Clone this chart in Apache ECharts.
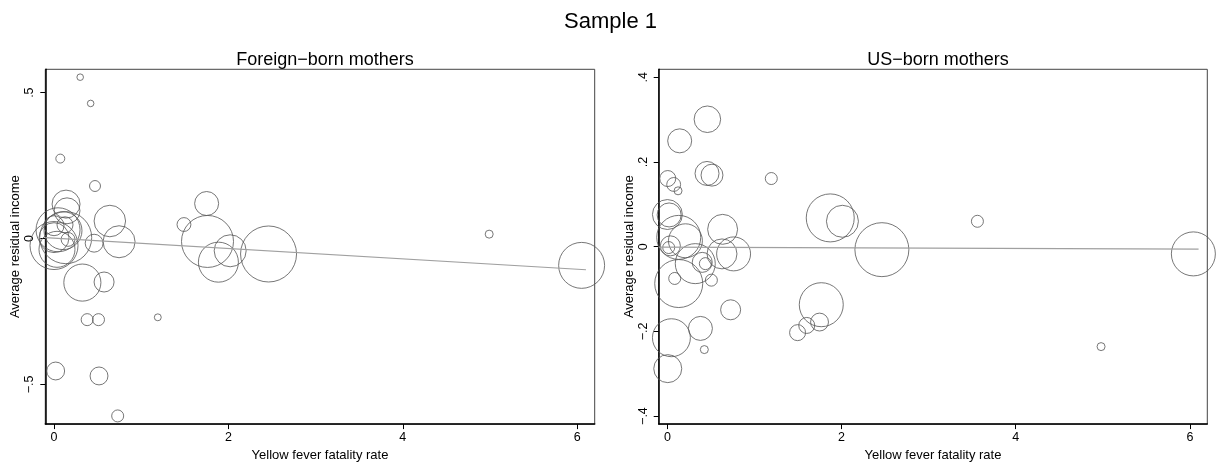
<!DOCTYPE html>
<html>
<head>
<meta charset="utf-8">
<script src="https://cdn.jsdelivr.net/npm/echarts@6/dist/echarts.min.js"></script>
<style>html,body{margin:0;padding:0;background:#fff}#c{width:1221px;height:467px}</style>
</head>
<body>
<div id="c"></div>
<script>
// ---- Data ----
const mainTitle = "Sample 1";
const panelTitles = ["Foreign\u2212born mothers", "US\u2212born mothers"];
const xAxisTitle = "Yellow fever fatality rate";
const yAxisTitle = "Average residual income";
const xTicks = [0, 2, 4, 6];
const yTicksForeign = [-0.5, 0, 0.5];
const yTicksUS = [-0.4, -0.2, 0, 0.2, 0.4];

// Foreign-born mothers: fatality rate, residual income, weight
const foreignX = [0.30, 0.42, 0.072, 0.47, 0.64, 0.746, 0.46, 1.49, 1.75, 1.76, 2.02, 1.885, 2.46, 0.325, 0.574, 0.38, 0.51, 1.19, 0.019, 0.516, 0.73, 4.99, 6.05,
  0.138, 0.149, 0.134, 0.046, 0.0, 0.034, 0.0, 0.103, 0.161, 0.126, 0.0];
const foreignY = [0.553, 0.463, 0.274, 0.18, 0.06, -0.011, -0.016, 0.048, 0.12, -0.01, -0.042, -0.081, -0.053, -0.151, -0.149, -0.278, -0.278, -0.27, -0.454, -0.471, -0.608, 0.015, -0.092,
  0.118, 0.095, 0.003, 0.030, -0.024, -0.037, 0.003, 0.027, -0.003, 0.047, 0.044];
const foreignW = [2.7, 2.7, 5, 7.5, 62, 64, 20, 12, 36, 169, 64, 100, 196, 86, 25, 9, 9, 3, 20, 20, 9, 4, 132,
  49, 42, 169, 121, 144, 81, 56, 90, 12, 16, 25];
// Fitted line endpoints (foreign)
const foreignFitX = [-0.1, 6.1];
const foreignFitY = [0.0034, -0.107];

// US-born mothers
const usX = [0.459, 0.141, 0.004, 0.072, 0.122, 0.455, 0.512, 1.193, 1.87, 2.01, 2.463, 0.634, 0.0, 0.02, 0.13, 0.207, 0.015, 0.034, 0.32, 0.40, 0.436, 0.627, 0.76, 0.13, 0.084, 0.505, 0.726, 0.379, 0.424, 0.046, 0.004, 1.767, 1.747, 1.60, 1.495, 3.56, 4.98, 6.04];
const usY = [0.301, 0.25, 0.161, 0.147, 0.132, 0.173, 0.169, 0.161, 0.068, 0.06, -0.007, 0.041, 0.076, 0.075, 0.022, 0.014, -0.002, 0.002, -0.04, -0.037, -0.04, -0.017, -0.017, -0.087, -0.075, -0.079, -0.149, -0.193, -0.243, -0.215, -0.288, -0.137, -0.178, -0.186, -0.203, 0.06, -0.236, -0.017];
const usW = [44, 36, 16, 12, 4, 36, 30, 9, 144, 64, 182, 56, 56, 36, 121, 72, 9, 25, 100, 25, 9, 56, 72, 144, 9, 9, 25, 36, 4, 90, 49, 121, 20, 16, 16, 9, 4, 121];
const usFitX = [-0.1, 6.1];
const usFitY = [-0.001, -0.0056];

// ---- Build ----
const FONT = "'Liberation Sans', Arial, Helvetica, sans-serif";
function fmt(v) {
  if (Math.abs(v) < 1e-9) return '0';
  const s = String(Math.abs(Math.round(v * 100) / 100)).replace(/^0/, '');
  return (v < 0 ? '\u2212' : '') + s;
}
function zip(xs, ys, ws) { return xs.map((x, i) => ws ? [x, ys[i], ws[i]] : [x, ys[i]]); }
const sizeFn = d => 4 * Math.sqrt(d[2]);

const grids = [
  { left: 45.3, right: 626.3, top: 69.3, bottom: 37.7 },
  { left: 658.7, right: 13.7, top: 69.3, bottom: 37.7 }
];
const yRanges = [[-0.636, 0.58], [-0.419, 0.419]];
const yTicks = [yTicksForeign, yTicksUS];

const option = {
  animation: false,
  backgroundColor: '#fff',
  textStyle: { fontFamily: FONT },
  title: [
    { text: mainTitle, left: 'center', top: 6, textStyle: { fontSize: 22, fontWeight: 'normal', color: '#000', fontFamily: FONT } },
    { text: panelTitles[0], left: 320, top: 46, textAlign: 'center', textStyle: { fontSize: 18, fontWeight: 'normal', color: '#000', fontFamily: FONT } },
    { text: panelTitles[1], left: 933, top: 46, textAlign: 'center', textStyle: { fontSize: 18, fontWeight: 'normal', color: '#000', fontFamily: FONT } }
  ],
  grid: grids.map(g => Object.assign({ show: true, borderColor: '#444', borderWidth: 1, backgroundColor: '#fff' }, g)),
  xAxis: [0, 1].map(i => ({
    type: 'value', gridIndex: i, min: -0.1, max: 6.2,
    name: xAxisTitle, nameLocation: 'middle', nameGap: 22,
    nameTextStyle: { fontSize: 13, color: '#000', fontFamily: FONT },
    axisLine: { show: true, onZero: false, lineStyle: { color: '#000', width: 1.5 } },
    axisTick: { show: true, length: 5, lineStyle: { color: '#000' }, customValues: xTicks },
    axisLabel: { color: '#000', fontSize: 12.5, margin: 7, customValues: xTicks, formatter: fmt, fontFamily: FONT },
    splitLine: { show: false }
  })),
  yAxis: [0, 1].map(i => ({
    type: 'value', gridIndex: i, min: yRanges[i][0], max: yRanges[i][1],
    name: yAxisTitle, nameLocation: 'middle', nameGap: 22, nameRotate: 90,
    nameTextStyle: { fontSize: 13, color: '#000', fontFamily: FONT },
    axisLine: { show: true, onZero: false, lineStyle: { color: '#000', width: 1.5 } },
    axisTick: { show: true, length: 5, lineStyle: { color: '#000' }, customValues: yTicks[i] },
    axisLabel: { color: '#000', fontSize: 12.5, margin: 9, rotate: 90, customValues: yTicks[i], formatter: fmt, fontFamily: FONT },
    splitLine: { show: false }
  })),
  series: [
    { type: 'scatter', xAxisIndex: 0, yAxisIndex: 0, data: zip(foreignX, foreignY, foreignW), symbol: 'circle', symbolSize: sizeFn, clip: false,
      itemStyle: { color: 'rgba(0,0,0,0)', borderColor: '#555', borderWidth: 1 } },
    { type: 'line', xAxisIndex: 0, yAxisIndex: 0, data: zip(foreignFitX, foreignFitY), showSymbol: false, symbol: 'none',
      lineStyle: { color: '#a0a0a0', width: 1.2 } },
    { type: 'scatter', xAxisIndex: 1, yAxisIndex: 1, data: zip(usX, usY, usW), symbol: 'circle', symbolSize: sizeFn, clip: false,
      itemStyle: { color: 'rgba(0,0,0,0)', borderColor: '#555', borderWidth: 1 } },
    { type: 'line', xAxisIndex: 1, yAxisIndex: 1, data: zip(usFitX, usFitY), showSymbol: false, symbol: 'none',
      lineStyle: { color: '#a0a0a0', width: 1.2 } }
  ]
};
const chart = echarts.init(document.getElementById('c'), null, { renderer: 'canvas' });
chart.setOption(option);
</script>
</body>
</html>
